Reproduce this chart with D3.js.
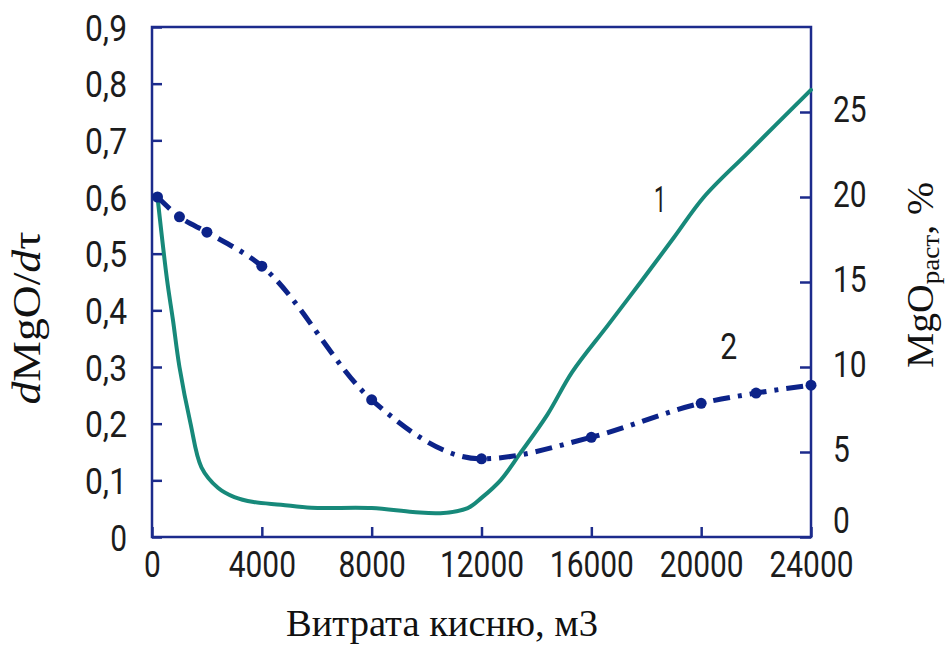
<!DOCTYPE html>
<html>
<head>
<meta charset="utf-8">
<script src="https://cdn.jsdelivr.net/npm/d3@7"></script>
<style>
  body { margin: 0; background: #fff; }
  .tick text { font-family: Roboto, "DejaVu Sans Condensed", sans-serif; fill: #1c1c1c; }
</style>
</head>
<body>
<svg id="chart" width="946" height="646"></svg>
<script>
// Oxygen consumption axis
const xTicks = [0, 4000, 8000, 12000, 16000, 20000, 24000];
// Left axis: dMgO/dτ
const leftTicks = [0, 0.1, 0.2, 0.3, 0.4, 0.5, 0.6, 0.7, 0.8, 0.9];
// Right axis: dissolved MgO, %
const rightTicks = [0, 5, 10, 15, 20, 25];

// Curve 2 — rate dMgO/dτ (measured points)
const rateFlow   = [200, 1000, 2000, 4000, 8000, 12000, 16000, 20000, 22000, 24000];
const rateValues = [0.60, 0.565, 0.538, 0.478, 0.242, 0.138, 0.176, 0.236, 0.254, 0.268];

// Curve 1 — dissolved MgO, %
const mgoFlow   = [200, 550, 760, 1000, 1400, 1800, 2400, 3000, 3700, 4700, 5800, 8000, 9500, 10500,
                   11500, 12000, 12700, 13400, 14400, 15300, 16600, 17800, 19000, 20100, 21700, 24000];
const mgoValues = [20.0, 15.1, 12.8, 10.0, 6.7, 4.1, 2.9, 2.35, 2.06, 1.9, 1.72, 1.7, 1.47, 1.4,
                   1.7, 2.3, 3.35, 4.9, 7.2, 9.7, 12.45, 15.0, 17.6, 20.0, 22.6, 26.3];

const W = 946, H = 646;
const margin = { top: 27, right: 135, bottom: 109, left: 152 };
const iw = W - margin.left - margin.right;
const ih = H - margin.top - margin.bottom;

const AXIS = "#1c2b8c";
const TEAL = "#17897a";
const NAVY = "#0c2389";

const svg = d3.select("#chart");
const g = svg.append("g").attr("transform", `translate(${margin.left},${margin.top})`);

const x = d3.scaleLinear().domain([0, 24000]).range([0, iw]);
const yL = d3.scaleLinear().domain([0, 0.9]).range([ih, 0]);
const yR = d3.scaleLinear().domain([0, 30]).range([ih, 0]);

const fmtL = v => v === 0 ? "0" : v.toFixed(1).replace(".", ",");

// Narrow numerals: fixed advance per digit and comma
const numLength = s => s.replace(/[^0-9]/g, "").length * 16.8 + s.replace(/[0-9]/g, "").length * 8.4;

// Axes with inward ticks
const gx = g.append("g").attr("transform", `translate(0,${ih})`)
  .call(d3.axisBottom(x).tickValues(xTicks).tickSizeInner(-10).tickSizeOuter(0).tickPadding(14).tickFormat(d3.format("d")));
const gl = g.append("g")
  .call(d3.axisLeft(yL).tickValues(leftTicks).tickSizeInner(-10).tickSizeOuter(0).tickPadding(25).tickFormat(fmtL));
const gr = g.append("g").attr("transform", `translate(${iw},0)`)
  .call(d3.axisRight(yR).tickValues(rightTicks).tickSizeInner(-11).tickSizeOuter(0).tickPadding(22).tickFormat(d3.format("d")));

[gx, gl, gr].forEach(a => {
  a.select(".domain").remove();
  a.selectAll(".tick line").attr("stroke", AXIS).attr("stroke-width", 2.5);
  a.selectAll(".tick text").attr("font-size", 37)
    .attr("textLength", function () { return numLength(this.textContent); })
    .attr("lengthAdjust", "spacingAndGlyphs");
});
gr.selectAll(".tick text").attr("dy", d => d === 0 ? "-0.12em" : "0.26em");
gl.selectAll(".tick text").attr("dy", "0.36em");

// Frame
g.append("rect").attr("x", 0).attr("y", 0).attr("width", iw).attr("height", ih)
  .attr("fill", "none").attr("stroke", AXIS).attr("stroke-width", 2.5);

// Curve 1 (teal, solid)
const line1 = d3.line().x(d => x(d[0])).y(d => yR(d[1])).curve(d3.curveCatmullRom.alpha(0.5));
g.append("path").datum(d3.zip(mgoFlow, mgoValues))
  .attr("d", line1).attr("fill", "none").attr("stroke", TEAL).attr("stroke-width", 4)
  .attr("stroke-linejoin", "round").attr("stroke-linecap", "round");

// Curve 2 (navy, dash-dot with markers)
const pts2 = d3.zip(rateFlow, rateValues);
const line2 = d3.line().x(d => x(d[0])).y(d => yL(d[1])).curve(d3.curveMonotoneX);
g.append("path").datum(pts2)
  .attr("d", line2).attr("fill", "none").attr("stroke", NAVY).attr("stroke-width", 5)
  .attr("stroke-dasharray", "17 8 4 8").attr("stroke-linecap", "butt");
g.selectAll("circle.pt").data(pts2).join("circle").attr("class", "pt")
  .attr("cx", d => x(d[0])).attr("cy", d => yL(d[1])).attr("r", 5.5).attr("fill", NAVY);

// Curve labels
const labFont = 'Roboto, "DejaVu Sans Condensed", sans-serif';
g.append("text").attr("x", x(18500)).attr("y", yR(19.1)).attr("text-anchor", "middle")
  .attr("font-family", labFont).attr("font-size", 36).attr("fill", "#1c1c1c")
  .attr("textLength", 12).attr("lengthAdjust", "spacingAndGlyphs").text("1");
g.append("text").attr("x", x(21000)).attr("y", yL(0.314)).attr("text-anchor", "middle")
  .attr("font-family", labFont).attr("font-size", 36).attr("fill", "#1c1c1c")
  .attr("textLength", 17).attr("lengthAdjust", "spacingAndGlyphs").text("2");

// Axis titles
const serif = '"Liberation Serif", "DejaVu Serif", serif';
svg.append("text").attr("x", 442).attr("y", 636).attr("text-anchor", "middle")
  .attr("font-family", serif).attr("font-size", 38).attr("fill", "#111")
  .attr("textLength", 312).attr("lengthAdjust", "spacingAndGlyphs")
  .text("Витрата кисню, м3");

const tl = svg.append("text").attr("transform", "translate(40,318) rotate(-90)")
  .attr("text-anchor", "middle").attr("font-family", serif).attr("font-size", 40).attr("fill", "#111")
  .attr("textLength", 173).attr("lengthAdjust", "spacingAndGlyphs");
tl.append("tspan").attr("font-style", "italic").text("d");
tl.append("tspan").text("MgO/");
tl.append("tspan").attr("font-style", "italic").text("d");
tl.append("tspan").text("τ");

const tr = svg.append("text").attr("transform", "translate(933,275) rotate(-90)")
  .attr("text-anchor", "middle").attr("font-family", serif).attr("font-size", 38).attr("fill", "#111")
  .attr("textLength", 186).attr("lengthAdjust", "spacingAndGlyphs");
tr.append("tspan").text("MgO");
tr.append("tspan").attr("font-size", 26).attr("dy", 6).text("раст");
tr.append("tspan").attr("dy", -6).text(", %");
</script>
</body>
</html>
